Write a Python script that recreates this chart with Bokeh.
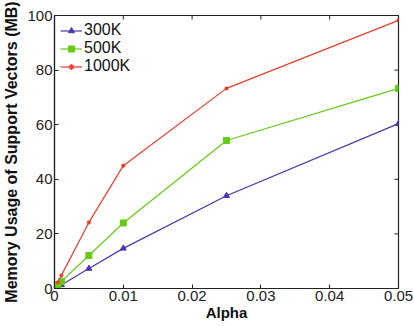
import math
from bokeh.plotting import figure
from bokeh.models import FixedTicker, Range1d, Legend, LegendItem
from bokeh.embed import file_html
from bokeh.resources import INLINE

alpha = [0.0005, 0.001, 0.005, 0.01, 0.025, 0.05]
mem_300k = [0.6, 1.3, 7.3, 14.7, 34.0, 60.4]
mem_500k = [1.4, 2.6, 12.1, 24.0, 54.2, 73.3]
mem_1000k = [2.3, 4.8, 24.2, 45.0, 73.3, 98.2]
series_names = ["300K", "500K", "1000K"]
colors = ["#4a36b0", "#66cc11", "#f03c2a"]

x_ticks = [0, 0.01, 0.02, 0.03, 0.04, 0.05]
x_tick_labels = ["0", "0.01", "0.02", "0.03", "0.04", "0.05"]
y_ticks = [0, 20, 40, 60, 80, 100]
y_tick_labels = ["0", "20", "40", "60", "80", "100"]

FONT = "Liberation Sans"
AX = "#222222"

p = figure(width=414, height=326, output_backend="svg", toolbar_location=None,
           x_range=Range1d(x_ticks[0], x_ticks[-1]), y_range=Range1d(y_ticks[0], y_ticks[-1]),
           min_border_left=53, min_border_right=16, min_border_top=15, min_border_bottom=38)
p.xgrid.visible = False
p.ygrid.visible = False
p.outline_line_color = AX
p.outline_line_width = 1.2
p.background_fill_color = "white"
p.border_fill_color = "white"

for ax, ticks, labels in ((p.xaxis[0], x_ticks, x_tick_labels), (p.yaxis[0], y_ticks, y_tick_labels)):
    ax.ticker = FixedTicker(ticks=ticks)
    ax.major_label_overrides = {t: l for t, l in zip(ticks, labels)}
    ax.minor_tick_line_color = None
    ax.major_tick_in = 4
    ax.major_tick_out = 0
    ax.axis_line_color = AX
    ax.axis_line_width = 1.2
    ax.major_tick_line_color = AX
    ax.major_label_text_font = FONT
    ax.major_label_text_font_size = "15px"
    ax.major_label_text_color = AX
    ax.major_label_standoff = 2
    ax.axis_label_text_font = FONT
    ax.axis_label_text_font_style = "bold"
    ax.axis_label_text_color = "#111111"

p.xaxis[0].axis_label = "Alpha"
p.yaxis[0].axis_label = "Memory Usage of Support Vectors (MB)"
p.xaxis[0].axis_label_text_font_size = "15px"
p.yaxis[0].axis_label_text_font_size = "16px"
p.xaxis[0].axis_label_standoff = 0
p.yaxis[0].axis_label_standoff = 4

# inward ticks on the top and right edges of the box (clipped to the frame)
p.scatter(x_ticks, [y_ticks[-1]] * len(x_ticks), marker="dash", angle=math.pi / 2,
          size=8, line_color=AX, line_width=1)
p.scatter([x_ticks[-1]] * len(y_ticks), y_ticks, marker="dash", angle=0,
          size=8, line_color=AX, line_width=1)

items = []
data = [mem_300k, mem_500k, mem_1000k]
markers = ["triangle", "square", "asterisk"]
sizes = [6, 6, 4]
for name, ys, c, m, s in zip(series_names, data, colors, markers, sizes):
    l = p.line(alpha, ys, line_color=c, line_width=1.2)
    if m == "asterisk":
        r = p.scatter(alpha, ys, marker=m, size=s, line_color=c, line_width=1.2)
    else:
        r = p.scatter(alpha, ys, marker=m, size=s, fill_color=c, line_color=c)
    items.append(LegendItem(label=name, renderers=[l, r]))

legend = Legend(items=items, location="top_left")
legend.background_fill_alpha = 0
legend.border_line_color = None
legend.label_text_font = FONT
legend.label_text_font_size = "16px"
legend.label_text_color = "#111111"
legend.glyph_width = 22
legend.glyph_height = 15
legend.label_standoff = 2
legend.spacing = 0
legend.padding = 2
legend.margin = 6
legend.label_height = 15
p.add_layout(legend)

open("out.html", "w").write(file_html(p, INLINE))
